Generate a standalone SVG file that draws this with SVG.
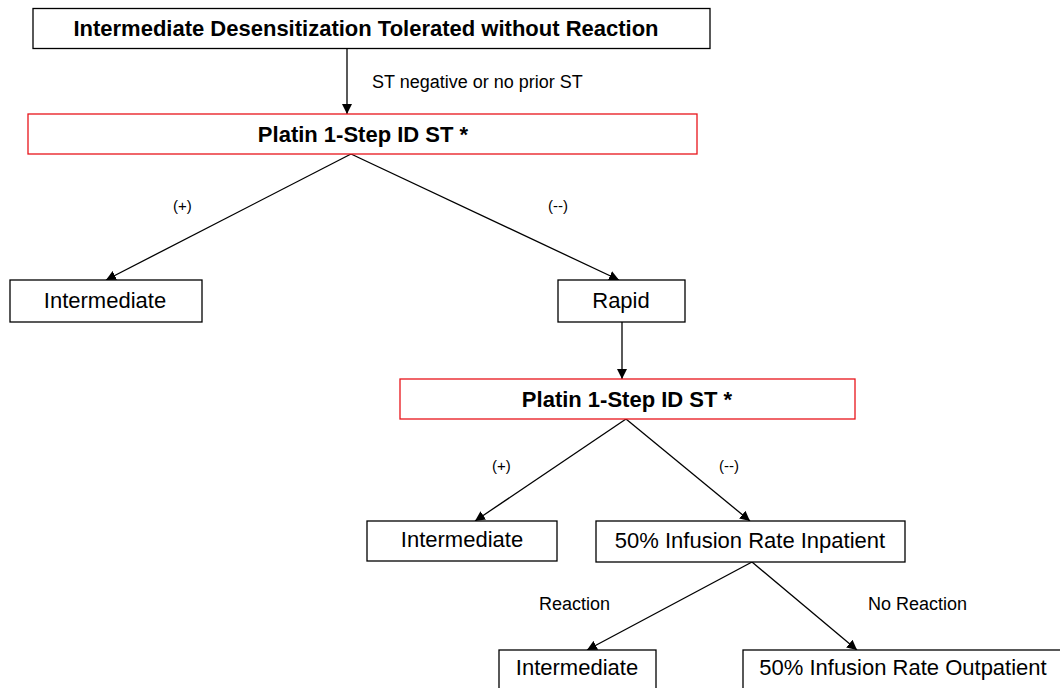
<svg xmlns="http://www.w3.org/2000/svg" width="1060" height="688" viewBox="0 0 1060 688">
<style>
.box{fill:#fff;stroke:#000;stroke-width:1.3}
.red{fill:#fff;stroke:#e8151b;stroke-width:1.3}
.t{font-family:"Liberation Sans",Arial,sans-serif;font-size:22px;fill:#000;text-anchor:middle}
.b{font-weight:bold;font-size:22px}
.lbl{font-family:"Liberation Sans",Arial,sans-serif;font-size:18px;fill:#000}
.sm{font-size:15px}
.c line{stroke:#000;stroke-width:1.3}
</style>
<defs>
<marker id="ar" viewBox="0 0 10 10" refX="10" refY="5" markerWidth="10" markerHeight="10" markerUnits="userSpaceOnUse" orient="auto">
<path d="M0,0 L10,5 L0,10 z" fill="#000"/>
</marker>
</defs>
<g class="c">
<line x1="347" y1="48" x2="347" y2="114" marker-end="url(#ar)"/>
<line x1="351" y1="154" x2="106" y2="280" marker-end="url(#ar)"/>
<line x1="351" y1="154" x2="619" y2="280" marker-end="url(#ar)"/>
<line x1="622" y1="322" x2="622" y2="379" marker-end="url(#ar)"/>
<line x1="626" y1="419" x2="475" y2="521" marker-end="url(#ar)"/>
<line x1="626" y1="419" x2="750" y2="521" marker-end="url(#ar)"/>
<line x1="752" y1="562" x2="587" y2="650" marker-end="url(#ar)"/>
<line x1="752" y1="562" x2="857" y2="650" marker-end="url(#ar)"/>
<text class="lbl" x="372" y="88">ST negative or no prior ST</text>
<text class="lbl sm" x="173" y="211">(+)</text>
<text class="lbl sm" x="548" y="211">(--)</text>
<text class="lbl sm" x="492" y="471">(+)</text>
<text class="lbl sm" x="719" y="471">(--)</text>
<text class="lbl" x="539" y="610">Reaction</text>
<text class="lbl" x="868" y="610">No Reaction</text>
</g>
<g id="n1"><rect class="box" x="33" y="8.5" width="677" height="40"/><text class="t b" x="366" y="36">Intermediate Desensitization Tolerated without Reaction</text></g>
<g id="n2"><rect class="red" x="28" y="114" width="669" height="40"/><text class="t b" x="363" y="142">Platin 1-Step ID ST *</text></g>
<g id="n3"><rect class="box" x="10" y="280" width="192" height="42"/><text class="t" x="105" y="308">Intermediate</text></g>
<g id="n4"><rect class="box" x="558" y="280" width="127" height="42"/><text class="t" x="621" y="308">Rapid</text></g>
<g id="n5"><rect class="red" x="400" y="379" width="455" height="40"/><text class="t b" x="627" y="407">Platin 1-Step ID ST *</text></g>
<g id="n6"><rect class="box" x="367" y="521" width="190" height="40"/><text class="t" x="462" y="547">Intermediate</text></g>
<g id="n7"><rect class="box" x="596" y="521" width="309" height="41"/><text class="t" x="750" y="548">50% Infusion Rate Inpatient</text></g>
<g id="n8"><rect class="box" x="499" y="650" width="157" height="42"/><text class="t" x="577" y="675">Intermediate</text></g>
<g id="n9"><rect class="box" x="743" y="650" width="318" height="42"/><text class="t" x="903" y="675">50% Infusion Rate Outpatient</text></g>
</svg>
